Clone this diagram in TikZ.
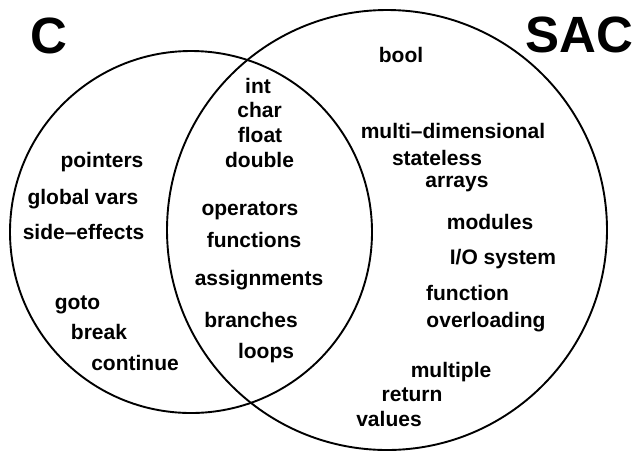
\documentclass[tikz,border=0pt]{standalone}
\usepackage{fontspec}
\setmainfont{Liberation Sans}
\begin{document}
\begin{tikzpicture}[x=1pt,y=-1pt,
  setline/.style={draw=black, line width=1.9pt},
  item/.style={anchor=base, inner sep=0pt, font=\fontsize{21}{25}\selectfont\bfseries},
  title/.style={anchor=base, inner sep=0pt, font=\fontsize{51}{60}\selectfont\bfseries}]
  \useasboundingbox[fill=white] (0,0) rectangle (634,451);

  % the two sets
  \draw[setline] (191,232) circle[radius=181pt];
  \draw[setline] (387,230) circle[radius=220pt];

  % set titles
  \node[title] (tc)   at (48.5,53) {C};
  \node[title] (tsac) at (579,52) {SAC};

  % C only
  \node[item] (pointers) at (102,167) {pointers};
  \node[item] (globals)  at (83,204)  {global vars};
  \node[item] (sidefx)   at (83.5,239) {side–effects};
  \node[item] (goto)     at (77.5,309) {goto};
  \node[item] (break)    at (99,339)  {break};
  \node[item] (cont)     at (135,370) {continue};

  % shared by C and SAC
  \node[item] (int)      at (258,93)  {int};
  \node[item] (char)     at (259.5,117) {char};
  \node[item] (float)    at (260,142) {float};
  \node[item] (double)   at (259.5,167) {double};
  \node[item] (ops)      at (250,215) {operators};
  \node[item] (funs)     at (254,247) {functions};
  \node[item] (assign)   at (259,285) {assignments};
  \node[item] (branch)   at (251,327) {branches};
  \node[item] (loops)    at (266,358) {loops};

  % SAC only
  \node[item] (bool)     at (401,62)  {bool};
  \node[item] (multidim) at (453,138) {multi–dimensional};
  \node[item] (stateless) at (437,165) {stateless};
  \node[item] (arrays)   at (457,187) {arrays};
  \node[item] (modules)  at (490,229) {modules};
  \node[item] (io)       at (503,264) {I/O system};
  \node[item] (function) at (467.5,300) {function};
  \node[item] (overload) at (486,327) {overloading};
  \node[item] (multiple) at (451,377) {multiple};
  \node[item] (return)   at (412,401) {return};
  \node[item] (values)   at (389,426) {values};
\end{tikzpicture}
\end{document}
